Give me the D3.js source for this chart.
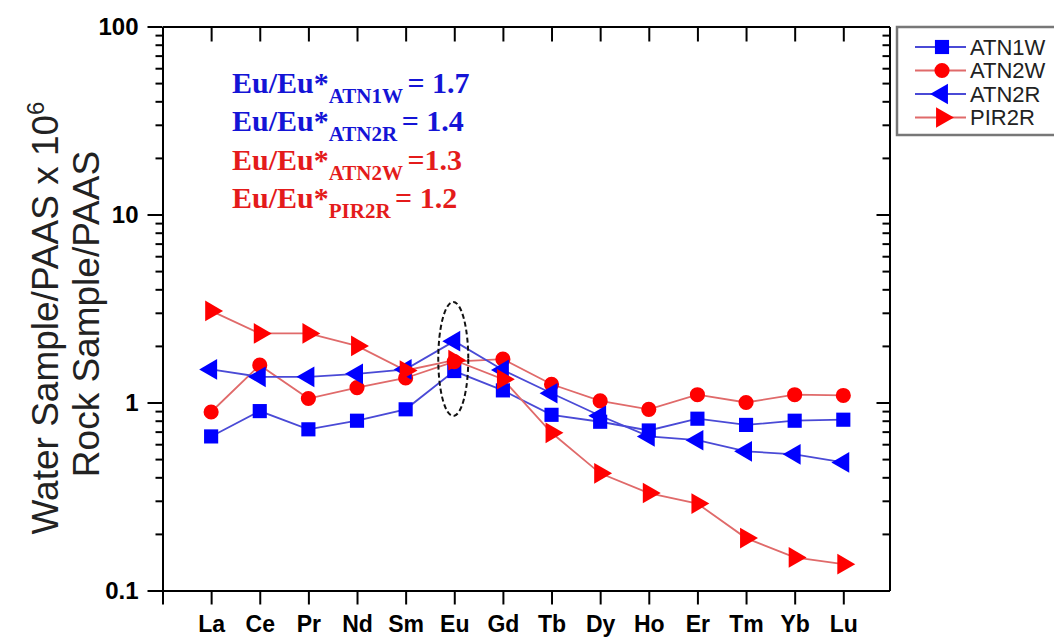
<!DOCTYPE html>
<html>
<head>
<meta charset="utf-8">
<script src="https://cdn.jsdelivr.net/npm/d3@7"></script>
<style>
  body { margin: 0; background: #fff; }
  svg { display: block; }
</style>
</head>
<body>
<script>
// REE categories (x axis)
var elements = ["La", "Ce", "Pr", "Nd", "Sm", "Eu", "Gd", "Tb", "Dy", "Ho", "Er", "Tm", "Yb", "Lu"];

// normalised values
var atn1w = [0.66, 0.90, 0.72, 0.80, 0.92, 1.47, 1.16, 0.86, 0.79, 0.71, 0.82, 0.76, 0.80, 0.81];
var atn2w = [0.89, 1.58, 1.05, 1.20, 1.35, 1.65, 1.70, 1.25, 1.02, 0.92, 1.10, 1.00, 1.10, 1.09];
var atn2r = [1.50, 1.37, 1.37, 1.42, 1.50, 2.12, 1.49, 1.12, 0.85, 0.66, 0.63, 0.55, 0.53, 0.48];
var pir2r = [3.07, 2.33, 2.33, 2.00, 1.48, 1.68, 1.33, 0.69, 0.42, 0.33, 0.29, 0.19, 0.15, 0.138];

var seriesNames = ["ATN1W", "ATN2W", "ATN2R", "PIR2R"];
var yTicks = [0.1, 1, 10, 100];

// Eu anomaly annotation lines
var euLabels = [
    { sub: "ATN1W", value: " = 1.7", color: "#1414d6" },
    { sub: "ATN2R", value: " = 1.4", color: "#1414d6" },
    { sub: "ATN2W", value: " =1.3", color: "#e41b1b" },
    { sub: "PIR2R", value: " = 1.2", color: "#e41b1b" }
];

var series = [
    { name: seriesNames[0], values: atn1w, fill: "#0000ff", line: "#4a4ad6", shape: "square" },
    { name: seriesNames[1], values: atn2w, fill: "#ff0000", line: "#e06a6a", shape: "circle" },
    { name: seriesNames[2], values: atn2r, fill: "#0000ff", line: "#4a4ad6", shape: "left" },
    { name: seriesNames[3], values: pir2r, fill: "#ff0000", line: "#e06a6a", shape: "right" }
];

var width = 1054, height = 642;
var svg = d3.select("body").append("svg")
    .attr("width", width)
    .attr("height", height);

var x = d3.scaleLinear().domain([0, 14.95]).range([162.5, 889.5]);
var y = d3.scaleLog().domain([0.1, 100]).range([590.5, 26.5]);

// minor tick values 2..9 per decade
var minor = [];
[0.1, 1, 10].forEach(function(d){
    for (var k = 2; k <= 9; k++) minor.push(d * k);
});

function symbolPath(shape){
    if (shape === "square") return d3.symbol(d3.symbolSquare, 200)();
    if (shape === "circle") return d3.symbol(d3.symbolCircle, 180)();
    return d3.symbol(d3.symbolTriangle, 185)();
}
function symbolRotate(shape){
    if (shape === "left") return -90;
    if (shape === "right") return 90;
    return 0;
}

// axes
function styleAxis(g){
    g.selectAll("path, line").attr("stroke", "#000").attr("stroke-width", 2);
}

svg.append("g")
    .attr("transform", "translate(" + x.range()[0] + ",0)")
    .call(d3.axisLeft(y).tickValues(yTicks).tickSize(15).tickSizeOuter(0)
        .tickFormat(function(d){ return d < 1 ? "0.1" : d3.format("d")(d); }))
    .call(styleAxis)
    .call(function(g){
        g.selectAll("text")
            .attr("x", -24)
            .attr("fill", "#000")
            .style("font", "bold 24px 'Liberation Sans', Arial, sans-serif");
    });

svg.append("g")
    .attr("transform", "translate(" + x.range()[0] + ",0)")
    .call(d3.axisLeft(y).tickValues(minor).tickSize(7).tickFormat(""))
    .call(styleAxis)
    .call(function(g){ g.select(".domain").remove(); });

svg.append("g")
    .attr("transform", "translate(" + x.range()[1] + ",0)")
    .call(d3.axisRight(y).tickValues(yTicks).tickSizeInner(-13).tickSizeOuter(0).tickFormat(""))
    .call(styleAxis);

svg.append("g")
    .attr("transform", "translate(" + x.range()[1] + ",0)")
    .call(d3.axisRight(y).tickValues(minor).tickSizeInner(-7).tickFormat(""))
    .call(styleAxis)
    .call(function(g){ g.select(".domain").remove(); });

svg.append("g")
    .attr("transform", "translate(0," + y.range()[0] + ")")
    .call(d3.axisBottom(x).tickValues(d3.range(0, 15)).tickSize(14).tickSizeOuter(0)
        .tickFormat(function(d){ return d === 0 ? "" : elements[d - 1]; }))
    .call(styleAxis)
    .call(function(g){
        g.selectAll("text")
            .attr("y", 25)
            .attr("fill", "#000")
            .style("font", "bold 23px 'Liberation Sans', Arial, sans-serif");
    });

svg.append("g")
    .attr("transform", "translate(0," + y.range()[1] + ")")
    .call(d3.axisTop(x).tickValues(d3.range(1, 15)).tickSizeInner(-15).tickSizeOuter(0).tickFormat(""))
    .call(styleAxis);

// y axis title, two lines
var yTitle = svg.append("g")
    .style("font", "37px 'Liberation Sans', Arial, sans-serif")
    .attr("fill", "#222");

var t1 = yTitle.append("text")
    .attr("transform", "translate(58,318) rotate(-90)")
    .attr("text-anchor", "middle");
t1.append("tspan").text("Water Sample/PAAS x 10");
t1.append("tspan").attr("dy", -14).style("font-size", "24px").text("6");

yTitle.append("text")
    .attr("transform", "translate(99,314) rotate(-90)")
    .attr("text-anchor", "middle")
    .text("Rock Sample/PAAS");

// data lines and markers
var line = d3.line()
    .x(function(d, i){ return x(i + 1); })
    .y(function(d){ return y(d); });

series.forEach(function(s){
    svg.append("path")
        .datum(s.values)
        .attr("fill", "none")
        .attr("stroke", s.line)
        .attr("stroke-width", 1.8)
        .attr("d", line);
});

series.forEach(function(s){
    svg.append("g").selectAll("path")
        .data(s.values)
        .enter()
        .append("path")
        .attr("d", symbolPath(s.shape))
        .attr("transform", function(d, i){
            return "translate(" + x(i + 1) + "," + y(d) + ") rotate(" + symbolRotate(s.shape) + ")";
        })
        .attr("fill", s.fill);
});

// dashed ellipse around Eu
svg.append("ellipse")
    .attr("cx", x(6) - 1)
    .attr("cy", 359)
    .attr("rx", 15)
    .attr("ry", 57)
    .attr("fill", "none")
    .attr("stroke", "#111")
    .attr("stroke-width", 2)
    .attr("stroke-dasharray", "5,3");

// Eu/Eu* annotation
var ann = svg.append("g")
    .style("font-family", "'Liberation Serif', 'Times New Roman', serif")
    .style("font-weight", "bold");

ann.selectAll("text")
    .data(euLabels)
    .enter()
    .append("text")
    .attr("x", 232)
    .attr("y", function(d, i){ return 93 + i * 38.3; })
    .attr("fill", function(d){ return d.color; })
    .style("font-size", "30px")
    .each(function(d){
        var t = d3.select(this);
        t.append("tspan").text("Eu/Eu*");
        t.append("tspan").attr("dy", 10).style("font-size", "21px").text(d.sub);
        t.append("tspan").attr("dy", -10).attr("dx", -3).text(d.value);
    });

// legend
var legend = svg.append("g");
legend.append("rect")
    .attr("x", 897)
    .attr("y", 27)
    .attr("width", 200)
    .attr("height", 108)
    .attr("fill", "#fff")
    .attr("stroke", "#777")
    .attr("stroke-width", 2.5);

var items = legend.selectAll(".item")
    .data(series)
    .enter()
    .append("g")
    .attr("class", "item")
    .attr("transform", function(d, i){ return "translate(0," + (47 + i * 23.5) + ")"; });

items.append("line")
    .attr("x1", 915).attr("x2", 966)
    .attr("stroke", function(d){ return d.line; })
    .attr("stroke-width", 1.8);

items.append("path")
    .attr("d", function(d){ return symbolPath(d.shape); })
    .attr("transform", function(d){ return "translate(942,0) rotate(" + symbolRotate(d.shape) + ")"; })
    .attr("fill", function(d){ return d.fill; });

items.append("text")
    .attr("x", 970)
    .attr("dy", "0.36em")
    .attr("fill", "#222")
    .style("font", "22px 'Liberation Sans', Arial, sans-serif")
    .text(function(d){ return d.name; });
</script>
</body>
</html>
